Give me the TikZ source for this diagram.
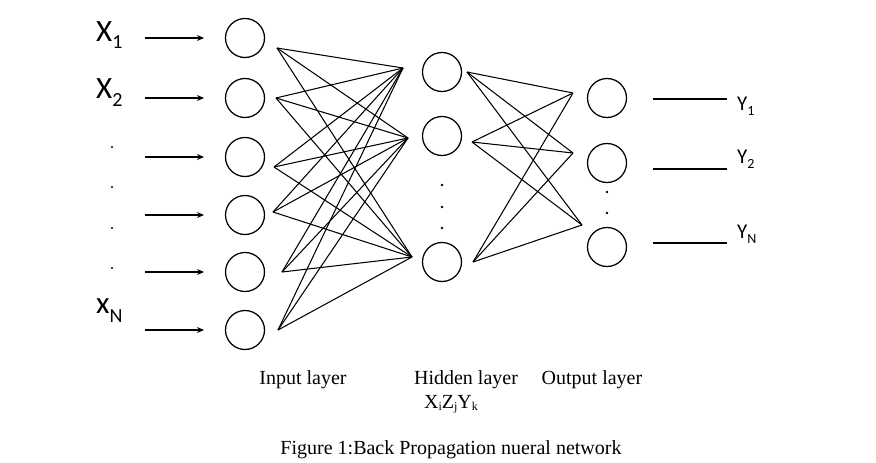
\documentclass[tikz,border=0pt]{standalone}
\usepackage{fontspec}
\setmainfont{Liberation Serif}
\newfontfamily\carlitofont{Carlito}
\usetikzlibrary{arrows.meta}
\begin{document}
\begin{tikzpicture}[x=1pt,y=-1pt,
  neuron/.style={circle,draw,line width=1.25pt,minimum size=39pt,inner sep=0pt},
  wire/.style={line width=1.05pt},
  arr/.style={line width=1.1pt,-{Stealth[length=7pt,width=6pt]}},
  lab/.style={font=\carlitofont\fontsize{31}{31}\selectfont,anchor=base west,inner sep=0pt},
  ylab/.style={font=\carlitofont\fontsize{21}{21}\selectfont,anchor=base west,inner sep=0pt},
  captext/.style={font=\fontsize{20}{22}\selectfont,anchor=base,inner sep=0pt}]
\useasboundingbox (0,0) rectangle (876,463);
% input layer
\foreach \k/\y in {1/38,2/98,3/157,4/215,5/272,6/330}{
  \node[neuron] (i\k) at (245,\y) {};
  \coordinate (as\k) at (145,\y);
  \coordinate (ae\k) at (204,\y);
  \draw[arr] (as\k) -- (ae\k);
}
% hidden layer
\node[neuron] (h1) at (442,72) {};
\node[neuron] (h2) at (442,136) {};
\node[neuron] (h3) at (442,262) {};
% output layer
\node[neuron] (o1) at (607,98) {};
\node[neuron] (o2) at (607,163) {};
\node[neuron] (o3) at (607,247) {};
% dots
\foreach \y in {185,207,228}{\fill (442,\y) circle (1.3pt);}
\foreach \y in {192,213}{\fill (607,\y) circle (1.3pt);}
\foreach \y in {147,187,228,268}{\fill (112,\y) circle (1.2pt);}
% wire endpoints
\coordinate (l1) at (277,48);
\coordinate (l2) at (276,98);
\coordinate (l3) at (274,167);
\coordinate (l4) at (273,212);
\coordinate (l5) at (282,272);
\coordinate (l6) at (278,330);
\coordinate (r1) at (403,68);
\coordinate (r2) at (408,138);
\coordinate (r3) at (412,257);
\foreach \a in {1,...,6}{\foreach \b in {1,2,3}{\draw[wire] (l\a) -- (r\b);}}
\coordinate (m1) at (467,72);
\coordinate (m2) at (472,142);
\coordinate (m3) at (473,262);
\coordinate (n1) at (573,93);
\coordinate (n2) at (573,153);
\coordinate (n3) at (582,225);
\foreach \a in {1,2,3}{\foreach \b in {1,2,3}{\draw[wire] (m\a) -- (n\b);}}
% output lines
\foreach \k/\y in {1/99,2/169,3/243}{
  \coordinate (os\k) at (653,\y);
  \coordinate (oe\k) at (727,\y);
  \draw[line width=1.1pt] (os\k) -- (oe\k);
}
% input labels
\node[lab] (x1) at (96,41) {X\raisebox{-8pt}{\fontsize{20}{20}\selectfont 1}};
\node[lab] (x2) at (96,98) {X\raisebox{-8pt}{\fontsize{20}{20}\selectfont 2}};
\node[lab] (xn) at (96,313) {x\raisebox{-9pt}{\fontsize{20}{20}\selectfont N}};
% output labels
\node[ylab] (y1) at (737,110) {Y\raisebox{-5pt}{\fontsize{14}{14}\selectfont 1}};
\node[ylab] (y2) at (737,163) {Y\raisebox{-5pt}{\fontsize{14}{14}\selectfont 2}};
\node[ylab] (yn) at (737,238) {Y\raisebox{-5pt}{\fontsize{14}{14}\selectfont N}};
% captions
\node[captext] (t1) at (303,384) {Input layer};
\node[captext] (t2) at (466,384) {Hidden layer};
\node[captext] (t3) at (592,384) {Output layer};
\node[captext] (t4) at (451,408) {X\raisebox{-2pt}{\fontsize{12}{12}\selectfont i}Z\raisebox{-2pt}{\fontsize{12}{12}\selectfont j}Y\raisebox{-2pt}{\fontsize{12}{12}\selectfont k}};
\node[captext] (t5) at (451,454) {Figure 1:Back Propagation nueral network};
\end{tikzpicture}
\end{document}
